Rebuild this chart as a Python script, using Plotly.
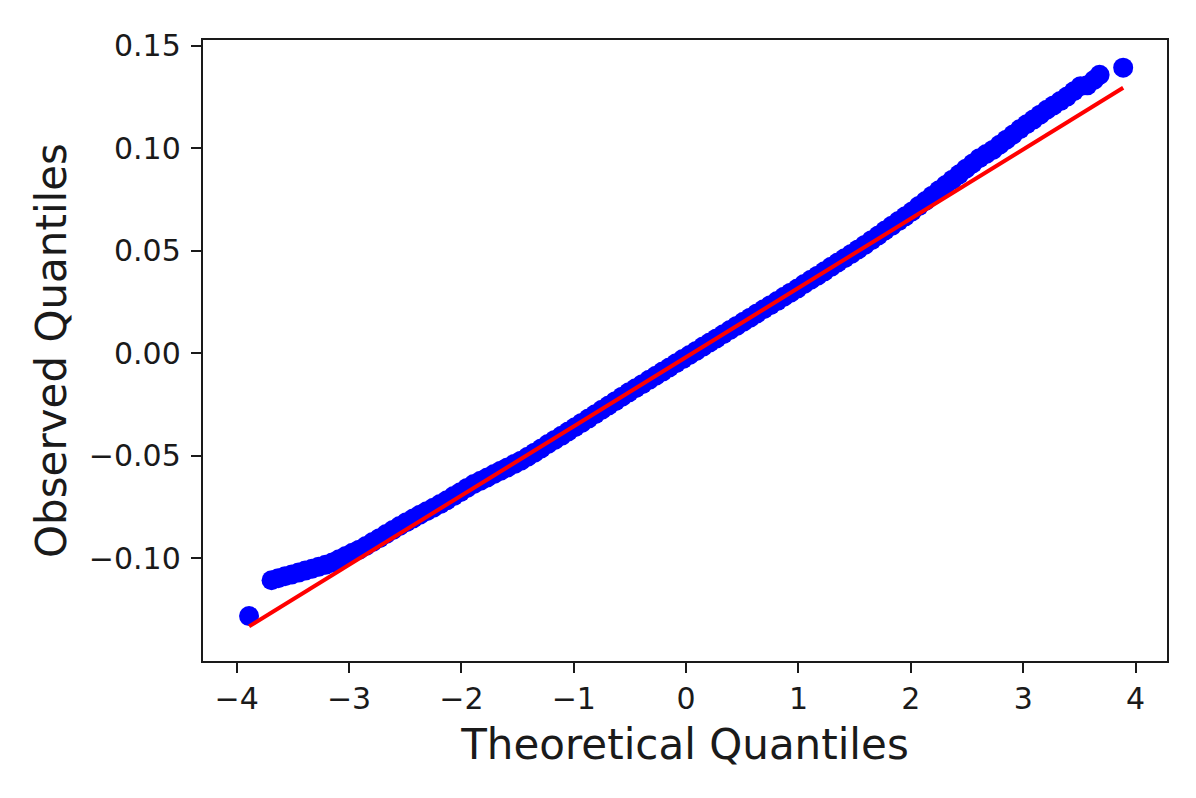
import plotly.graph_objects as go

# theoretical quantiles (x) and observed quantiles (y)
theoretical_q = [
    -3.89, -3.69,
    -3.63, -3.57, -3.51, -3.45, -3.39, -3.33, -3.27, -3.21, -3.15, -3.09,
    -3.03, -2.97, -2.91, -2.85, -2.79, -2.73, -2.67, -2.61, -2.55, -2.49,
    -2.43, -2.37, -2.31, -2.25, -2.19, -2.13, -2.07, -2.01, -1.95, -1.89,
    -1.83, -1.77, -1.71, -1.65, -1.59, -1.53, -1.47, -1.41, -1.35, -1.29,
    -1.23, -1.17, -1.11, -1.05, -0.99, -0.93, -0.87, -0.81, -0.75, -0.69,
    -0.63, -0.57, -0.51, -0.45, -0.39, -0.33, -0.27, -0.21, -0.15, -0.09,
    -0.03, 0.03, 0.09, 0.15, 0.21, 0.27, 0.33, 0.39, 0.45, 0.51,
    0.57, 0.63, 0.69, 0.75, 0.81, 0.87, 0.93, 0.99, 1.05, 1.11,
    1.17, 1.23, 1.29, 1.35, 1.41, 1.47, 1.53, 1.59, 1.65, 1.71,
    1.77, 1.83, 1.89, 1.95, 2.01, 2.07, 2.13, 2.19, 2.25, 2.31,
    2.37, 2.43, 2.49, 2.55, 2.61, 2.67, 2.73, 2.79, 2.85, 2.91,
    2.97, 3.03, 3.09, 3.15, 3.21, 3.27, 3.33, 3.39, 3.45, 3.51,
    3.57, 3.63,
    3.68, 3.89,
]
observed_q = [
    -0.1281, -0.1106,
    -0.1096, -0.1087, -0.1078, -0.1069, -0.1059, -0.1050, -0.1040, -0.1031, -0.1020, -0.1004,
    -0.0988, -0.0972, -0.0957, -0.0939, -0.0920, -0.0901, -0.0881, -0.0861, -0.0842, -0.0823,
    -0.0805, -0.0787, -0.0770, -0.0753, -0.0735, -0.0716, -0.0696, -0.0677, -0.0656, -0.0637,
    -0.0621, -0.0605, -0.0588, -0.0572, -0.0556, -0.0540, -0.0523, -0.0504, -0.0484, -0.0464,
    -0.0442, -0.0422, -0.0402, -0.0381, -0.0360, -0.0339, -0.0318, -0.0297, -0.0275, -0.0254,
    -0.0233, -0.0211, -0.0190, -0.0170, -0.0150, -0.0129, -0.0109, -0.0089, -0.0069, -0.0048,
    -0.0028, -0.0008, 0.0012, 0.0033, 0.0053, 0.0073, 0.0093, 0.0114, 0.0134, 0.0154,
    0.0174, 0.0195, 0.0215, 0.0235, 0.0255, 0.0276, 0.0296, 0.0316, 0.0338, 0.0359,
    0.0379, 0.0400, 0.0422, 0.0443, 0.0464, 0.0485, 0.0507, 0.0529, 0.0552, 0.0575,
    0.0599, 0.0622, 0.0645, 0.0668, 0.0692, 0.0718, 0.0743, 0.0769, 0.0795, 0.0821,
    0.0847, 0.0873, 0.0900, 0.0926, 0.0952, 0.0972, 0.0992, 0.1017, 0.1042, 0.1067,
    0.1093, 0.1117, 0.1140, 0.1164, 0.1188, 0.1209, 0.1230, 0.1252, 0.1278, 0.1303,
    0.1307, 0.1333,
    0.1358, 0.1393,
]

# fitted reference line (end points)
fit_x = [-3.89, 3.89]
fit_y = [-0.1331, 0.1295]

x_ticks = [-4, -3, -2, -1, 0, 1, 2, 3, 4]
y_ticks = [-0.10, -0.05, 0.00, 0.05, 0.10, 0.15]

FONT = "DejaVu Sans"
INK = "#1a1a1a"

fig = go.Figure()

# sample points
fig.add_trace(go.Scatter(x=theoretical_q, y=observed_q, mode="markers",
                         marker=dict(color="#0000ff", size=20, line=dict(width=0)),
                         showlegend=False))

# red reference line
fig.add_trace(go.Scatter(x=fit_x, y=fit_y, mode="lines",
                         line=dict(color="#ff0000", width=4),
                         showlegend=False))

# the page body adds ~8px, so margins are shifted to compensate
fig.update_layout(
    width=1196, height=798,
    margin=dict(l=195, r=37, t=32, b=145),
    paper_bgcolor="white", plot_bgcolor="white",
    font=dict(family=FONT, color=INK, size=30),
)

fig.update_xaxes(range=[-4.30, 4.28], tickvals=x_ticks,
                 showgrid=False, zeroline=False,
                 showline=True, linecolor=INK, linewidth=2.4, mirror=True,
                 ticks="outside", ticklen=10, tickwidth=2.4, tickcolor=INK,
                 tickfont=dict(size=30),
                 title=dict(text="Theoretical Quantiles", font=dict(size=42), standoff=14))
fig.update_yaxes(range=[-0.150, 0.1528], tickvals=y_ticks, tickformat=".2f",
                 showgrid=False, zeroline=False,
                 showline=True, linecolor=INK, linewidth=2.4, mirror=True,
                 ticks="outside", ticklen=10, tickwidth=2.4, tickcolor=INK,
                 tickfont=dict(size=30), ticklabelstandoff=4,
                 title=dict(text="Observed Quantiles", font=dict(size=42), standoff=9))

fig.write_html("out.html")
